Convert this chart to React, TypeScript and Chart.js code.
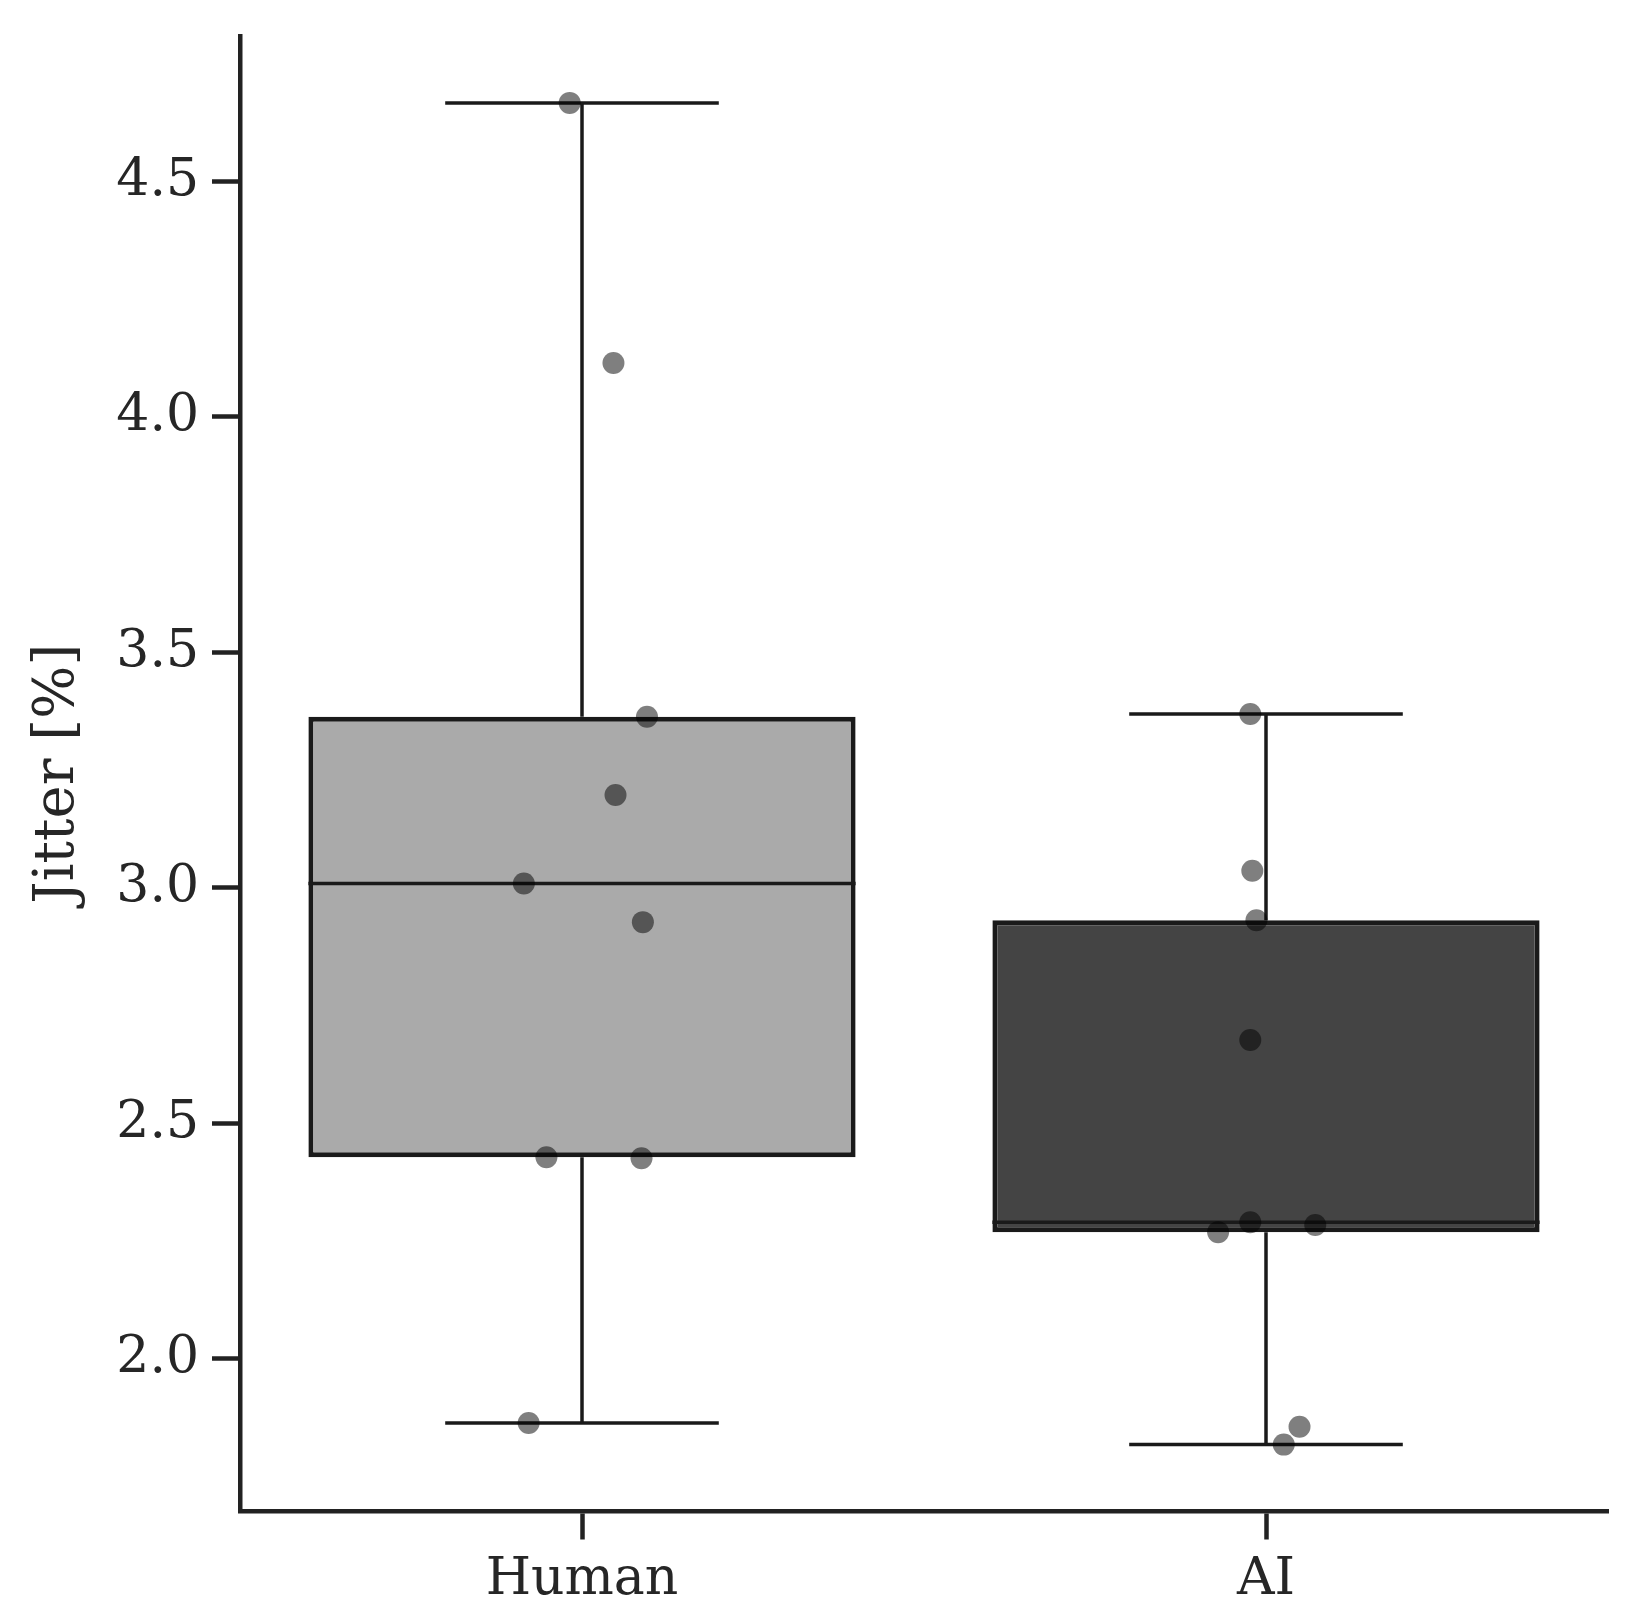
import React, { useEffect, useRef } from 'react';
import { Chart, registerables } from 'chart.js';

Chart.register(...registerables);

// ---- data ----
const categories = ['Human', 'AI'];
const humanValues = [4.666, 4.114, 3.363, 3.197, 3.009, 2.927, 2.428, 2.426, 1.864];
const humanJitter = [-0.018, 0.046, 0.095, 0.049, -0.085, 0.089, -0.052, 0.087, -0.078];
const aiValues = [3.369, 3.036, 2.931, 2.677, 2.29, 2.284, 2.269, 1.856, 1.818];
const aiJitter = [-0.023, -0.02, -0.014, -0.023, -0.023, 0.072, -0.07, 0.049, 0.026];
const yTickValues = [2.0, 2.5, 3.0, 3.5, 4.0, 4.5];
const yLabel = 'Jitter [%]';

// ---- styling ----
const W = 1637;
const H = 1615;
const PLOT = { left: 240, right: 1608, top: 36, bottom: 1511.5 };
const Y_MIN = 1.676;
const Y_MAX = 4.808;
const boxColors = ['#aaaaaa', '#444444'];
const edgeColor = '#1a1a1a';
const axisColor = '#222222';
const textColor = '#262626';
const FONT = 'DejaVu Serif';
const BOX_WIDTH = 0.8;
const CAP_WIDTH = 0.4;

function quantile(sorted: number[], p: number) {
  const pos = (sorted.length - 1) * p;
  const lo = Math.floor(pos);
  const hi = Math.ceil(pos);
  return sorted[lo] + (sorted[hi] - sorted[lo]) * (pos - lo);
}

function boxStats(values: number[]) {
  const s = [...values].sort((a, b) => a - b);
  const q1 = quantile(s, 0.25);
  const med = quantile(s, 0.5);
  const q3 = quantile(s, 0.75);
  const iqr = q3 - q1;
  const lo = Math.min(...s.filter((v) => v >= q1 - 1.5 * iqr));
  const hi = Math.max(...s.filter((v) => v <= q3 + 1.5 * iqr));
  return { q1, med, q3, lo, hi };
}

export default function App() {
  const ref = useRef<HTMLCanvasElement | null>(null);

  useEffect(() => {
    document.body.style.margin = '0';
    const canvas = ref.current;
    if (!canvas) return;

    const groups = [
      { values: humanValues, jitter: humanJitter },
      { values: aiValues, jitter: aiJitter },
    ];
    const stats = groups.map((g) => boxStats(g.values));

    const lineDs = (pts: { x: number; y: number }[], width: number) => ({
      type: 'scatter' as const,
      data: pts,
      showLine: true,
      pointRadius: 0,
      pointHoverRadius: 0,
      borderColor: edgeColor,
      borderWidth: width,
      order: 1,
    });

    const lineSets: any[] = [];
    stats.forEach((s, i) => {
      lineSets.push(lineDs([{ x: i, y: s.q3 }, { x: i, y: s.hi }], 3.5));
      lineSets.push(lineDs([{ x: i, y: s.q1 }, { x: i, y: s.lo }], 3.5));
      lineSets.push(lineDs([{ x: i - CAP_WIDTH / 2, y: s.hi }, { x: i + CAP_WIDTH / 2, y: s.hi }], 3.5));
      lineSets.push(lineDs([{ x: i - CAP_WIDTH / 2, y: s.lo }, { x: i + CAP_WIDTH / 2, y: s.lo }], 3.5));
      lineSets.push(lineDs([{ x: i - BOX_WIDTH / 2, y: s.med }, { x: i + BOX_WIDTH / 2, y: s.med }], 3.5));
    });

    const pointSets = groups.map((g, i) => ({
      type: 'scatter' as const,
      data: g.values.map((v, k) => ({ x: i + g.jitter[k], y: v })),
      pointRadius: 11,
      pointHoverRadius: 11,
      pointBorderWidth: 0,
      backgroundColor: 'rgba(0,0,0,0.5)',
      borderColor: 'rgba(0,0,0,0)',
      showLine: false,
      order: 0,
    }));

    const tickFont = { family: FONT, size: 52 };
    const titleFont = { family: FONT, size: 56 };

    const chart = new Chart(canvas, {
      type: 'bar',
      data: {
        datasets: [
          {
            type: 'bar',
            data: stats.map((s, i) => ({ x: i, y: [s.q1, s.q3] })) as any,
            backgroundColor: boxColors,
            borderColor: edgeColor,
            borderWidth: 5,
            borderSkipped: false,
            barPercentage: BOX_WIDTH,
            categoryPercentage: 1,
            order: 2,
          } as any,
          ...lineSets,
          ...pointSets,
        ],
      },
      options: {
        responsive: false,
        devicePixelRatio: 1,
        animation: false,
        events: [],
        layout: { padding: { top: PLOT.top, right: W - PLOT.right, left: 0, bottom: 0 } },
        plugins: { legend: { display: false }, tooltip: { enabled: false } },
        scales: {
          x: {
            type: 'linear',
            min: -0.5,
            max: 1.5,
            offset: false,
            afterBuildTicks: (s: any) => {
              s.ticks = categories.map((_, i) => ({ value: i }));
            },
            afterFit: (s: any) => {
              s.height = H - PLOT.bottom;
              s.paddingLeft = 0;
              s.paddingRight = 0;
            },
            ticks: {
              autoSkip: false,
              maxRotation: 0,
              padding: 10,
              color: textColor,
              font: tickFont,
              callback: (v: any) => categories[Math.round(Number(v))] ?? '',
            },
            grid: {
              display: true,
              drawOnChartArea: false,
              drawTicks: true,
              tickLength: 28,
              tickWidth: 4.5,
              tickColor: axisColor,
              offset: false,
            },
            border: { display: true, width: 4.5, color: axisColor },
          },
          y: {
            type: 'linear',
            min: Y_MIN,
            max: Y_MAX,
            beginAtZero: false,
            afterBuildTicks: (s: any) => {
              s.ticks = yTickValues.map((v) => ({ value: v }));
            },
            afterFit: (s: any) => {
              s.width = PLOT.left;
              s.paddingTop = 0;
              s.paddingBottom = 0;
            },
            ticks: {
              padding: 13,
              color: textColor,
              font: tickFont,
              callback: (v: any) => Number(v).toFixed(1),
            },
            grid: {
              display: true,
              drawOnChartArea: false,
              drawTicks: true,
              tickLength: 28,
              tickWidth: 4.5,
              tickColor: axisColor,
            },
            border: { display: true, width: 4.5, color: axisColor },
            title: {
              display: true,
              text: yLabel,
              color: textColor,
              font: titleFont,
              padding: { top: 25, bottom: 0 },
            },
          },
        },
      },
    });

    return () => chart.destroy();
  }, []);

  return (
    <div style={{ width: W, height: H, background: '#ffffff' }}>
      <canvas ref={ref} width={W} height={H} style={{ display: 'block', width: W, height: H }} />
    </div>
  );
}
